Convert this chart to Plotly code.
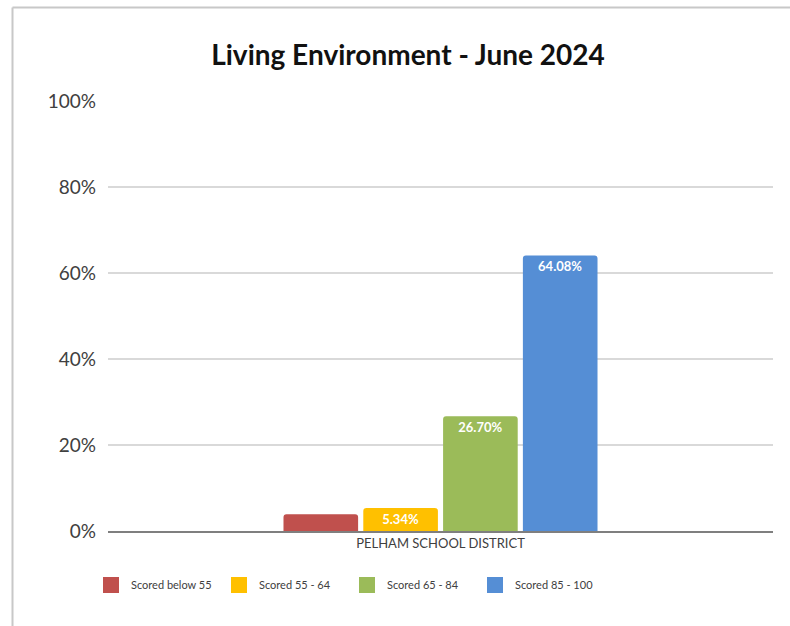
import plotly.graph_objects as go

category = ["PELHAM SCHOOL DISTRICT"]
series_names = ["Scored below 55", "Scored 55 - 64", "Scored 65 - 84", "Scored 85 - 100"]
series_values = [3.88, 5.34, 26.70, 64.08]
series_labels = ["", "5.34%", "26.70%", "64.08%"]
series_colors = ["#c0504d", "#ffc000", "#9bbb59", "#558ed5"]
y_ticks = [0, 20, 40, 60, 80, 100]
y_ticktext = ["0%", "20%", "40%", "60%", "80%", "100%"]

FONT = "Lato"

fig = go.Figure()
for name, val, lab, col in zip(series_names, series_values, series_labels, series_colors):
    fig.add_trace(go.Bar(
        x=category, y=[val], name=name, marker_color=col, marker_line_width=0,
        text=[lab], textposition="inside", insidetextanchor="end",
        textfont=dict(family=FONT, size=13, color="white", weight="bold"),
        constraintext="none", showlegend=False,
    ))
    # legend proxy with larger square swatch
    fig.add_trace(go.Scatter(
        x=[None], y=[None], mode="markers", name=name,
        marker=dict(symbol="square", size=16, color=col),
    ))

# frame lines (partial border visible in reference)
pw, ph = 665, 430
fig.add_shape(type="line", xref="paper", yref="paper",
              x0=(12.5 - 108) / pw, x1=(12.5 - 108) / pw, y0=(531 - 7.5) / ph, y1=(531 - 626) / ph,
              line=dict(color="#c8c8c8", width=2))
fig.add_shape(type="line", xref="paper", yref="paper",
              x0=(12.5 - 108) / pw, x1=(790 - 108) / pw, y0=(531 - 7.5) / ph, y1=(531 - 7.5) / ph,
              line=dict(color="#c8c8c8", width=2))

fig.update_layout(
    width=790, height=626,
    margin=dict(l=108, r=17, t=101, b=95),
    paper_bgcolor="white", plot_bgcolor="white",
    barmode="group", bargap=0.52, bargroupgap=0.065, barcornerradius=3,
    title=dict(text="Living Environment - June 2024", x=408 / 790, xanchor="center",
               y=1 - 55 / 626, yanchor="middle",
               font=dict(family=FONT, size=28, color="#111111", weight="bold")),
    font=dict(family=FONT, color="#404040"),
    xaxis=dict(showline=True, linecolor="#7f7f7f", linewidth=1.5, ticks="",
               tickfont=dict(size=13, color="#404040"), showgrid=False),
    yaxis=dict(range=[0, 100], tickvals=y_ticks, ticktext=y_ticktext,
               showgrid=True, gridcolor="#d9d9d9", gridwidth=1.5, zeroline=False,
               ticks="", ticklabelstandoff=11,
               tickfont=dict(size=19, color="#404040")),
    legend=dict(orientation="h", x=(91 - 108) / pw, xanchor="left",
                y=(531 - 585) / ph, yanchor="middle",
                entrywidth=83, entrywidthmode="pixels",
                font=dict(size=11, color="#404040", family=FONT)),
)

fig.write_html("out.html", config={"displayModeBar": False},
               post_script="document.body.style.margin='0';document.body.style.overflow='hidden';")
